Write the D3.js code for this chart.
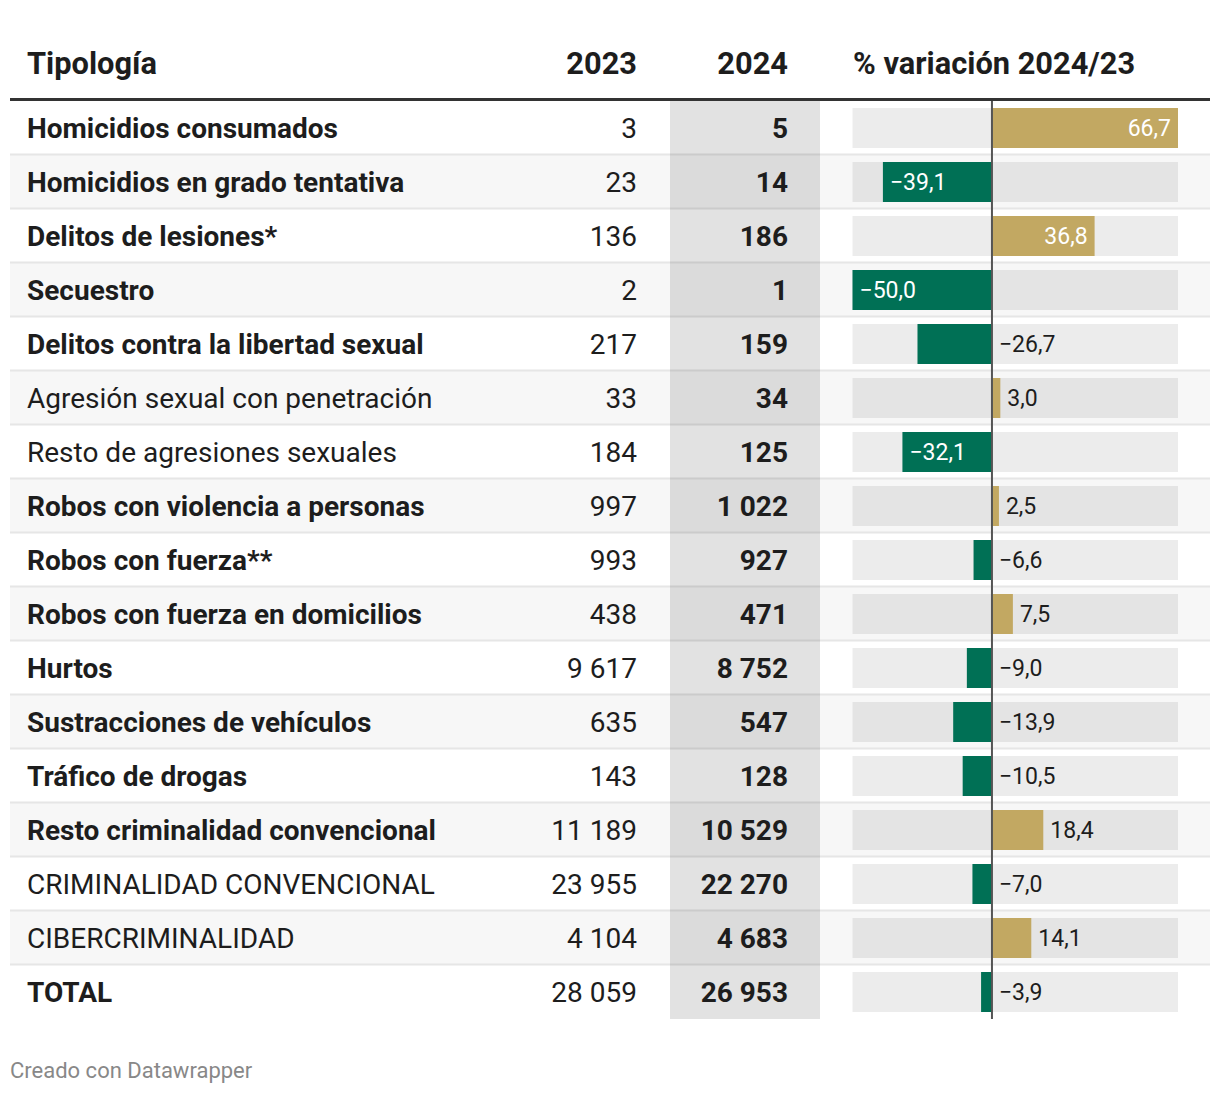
<!DOCTYPE html>
<html>
<head>
<meta charset="utf-8">
<script src="https://cdn.jsdelivr.net/npm/d3@7"></script>
<style>
  body { margin: 0; background: #fff; }
  svg { display: block; font-family: Roboto, "Noto Sans", sans-serif; }
</style>
</head>
<body>
<svg id="chart" width="1220" height="1094"></svg>
<script>
const categories = [
  "Homicidios consumados",
  "Homicidios en grado tentativa",
  "Delitos de lesiones*",
  "Secuestro",
  "Delitos contra la libertad sexual",
  "Agresión sexual con penetración",
  "Resto de agresiones sexuales",
  "Robos con violencia a personas",
  "Robos con fuerza**",
  "Robos con fuerza en domicilios",
  "Hurtos",
  "Sustracciones de vehículos",
  "Tráfico de drogas",
  "Resto criminalidad convencional",
  "CRIMINALIDAD CONVENCIONAL",
  "CIBERCRIMINALIDAD",
  "TOTAL"
];
const boldLabel = [true, true, true, true, true, false, false, true, true, true, true, true, true, true, false, false, true];
const values2023 = [3, 23, 136, 2, 217, 33, 184, 997, 993, 438, 9617, 635, 143, 11189, 23955, 4104, 28059];
const values2024 = [5, 14, 186, 1, 159, 34, 125, 1022, 927, 471, 8752, 547, 128, 10529, 22270, 4683, 26953];
const variation = [66.7, -39.1, 36.8, -50.0, -26.7, 3.0, -32.1, 2.5, -6.6, 7.5, -9.0, -13.9, -10.5, 18.4, -7.0, 14.1, -3.9];
const headers = ["Tipología", "2023", "2024", "% variación 2024/23"];

const rows = categories.map((c, i) => ({
  label: c, bold: boldLabel[i], a: values2023[i], b: values2024[i], v: variation[i]
}));

const loc = d3.formatLocale({decimal: ",", thousands: " ", grouping: [3], currency: ["", ""], minus: "\u2212"});
const fmtInt = loc.format(",d");
const fmtPct = loc.format(".1f");

const svg = d3.select("#chart");
const rowTop = 101, rowH = 54;
const y = d3.scaleBand().domain(d3.range(rows.length)).range([rowTop, rowTop + rowH * rows.length]).padding(0);
const x = d3.scaleLinear().domain([d3.min(variation), d3.max(variation)]).range([852.5, 1178]);

// row backgrounds
svg.append("g").selectAll("rect").data(rows).join("rect")
  .attr("x", 10).attr("width", 1200)
  .attr("y", (d, i) => y(i)).attr("height", rowH)
  .attr("fill", (d, i) => i % 2 ? "#f7f7f7" : "#ffffff");

// row separators
svg.append("g").selectAll("rect").data(rows.slice(0, -1)).join("rect")
  .attr("x", 10).attr("width", 1200)
  .attr("y", (d, i) => y(i) + rowH - 1.5).attr("height", 2)
  .attr("fill", "#e6e6e6");

// 2024 column highlight
svg.append("rect")
  .attr("x", 670).attr("width", 150)
  .attr("y", rowTop).attr("height", rowH * rows.length)
  .attr("fill", "#000").attr("fill-opacity", 0.115);

// header
const hy = 74;
const hfs = 30.8;
svg.append("text").attr("x", 27).attr("y", hy).text(headers[0])
  .attr("font-size", hfs).attr("font-weight", 700).attr("fill", "#1d1d1d");
svg.append("text").attr("x", 637).attr("y", hy).attr("text-anchor", "end").text(headers[1])
  .attr("font-size", hfs).attr("font-weight", 700).attr("fill", "#1d1d1d");
svg.append("text").attr("x", 788).attr("y", hy).attr("text-anchor", "end").text(headers[2])
  .attr("font-size", hfs).attr("font-weight", 700).attr("fill", "#1d1d1d");
svg.append("text").attr("x", 853).attr("y", hy).text(headers[3])
  .attr("font-size", hfs).attr("font-weight", 700).attr("fill", "#1d1d1d");

svg.append("rect").attr("x", 10).attr("y", 98).attr("width", 1200).attr("height", 3).attr("fill", "#333");

const g = svg.append("g").selectAll("g").data(rows).join("g")
  .attr("transform", (d, i) => `translate(0,${y(i) + rowH / 2})`);

const base = 10;
const rfs = 28;
g.append("text").attr("x", 27).attr("y", base)
  .attr("font-size", rfs).attr("font-weight", d => d.bold ? 700 : 400)
  .attr("fill", "#1d1d1d").text(d => d.label);
g.append("text").attr("x", 637).attr("y", base).attr("text-anchor", "end")
  .attr("font-size", rfs).attr("fill", "#1d1d1d").text(d => fmtInt(d.a));
g.append("text").attr("x", 788).attr("y", base).attr("text-anchor", "end")
  .attr("font-size", rfs).attr("font-weight", 700).attr("fill", "#1d1d1d").text(d => fmtInt(d.b));

// bar backgrounds
g.append("rect").attr("x", x.range()[0]).attr("width", x.range()[1] - x.range()[0])
  .attr("y", -20).attr("height", 40).attr("fill", "#000").attr("fill-opacity", 0.075);

// bars
g.append("rect")
  .attr("x", d => Math.min(x(0), x(d.v)))
  .attr("width", d => Math.abs(x(d.v) - x(0)))
  .attr("y", -20).attr("height", 40)
  .attr("fill", d => d.v >= 0 ? "#c2a862" : "#007055");

// bar labels
const inside = d => Math.abs(d.v) > 30;
g.append("text")
  .attr("x", d => {
    if (inside(d)) return d.v >= 0 ? x(d.v) - 7 : x(d.v) + 7;
    return d.v >= 0 ? x(d.v) + 7 : x(0) + 7;
  })
  .attr("text-anchor", d => inside(d) && d.v >= 0 ? "end" : "start")
  .attr("y", 8)
  .attr("font-size", 23)
  .attr("fill", d => inside(d) ? "#ffffff" : "#1d1d1d")
  .text(d => fmtPct(d.v));

// zero line
svg.append("rect").attr("x", x(0) - 1).attr("width", 2)
  .attr("y", rowTop).attr("height", rowH * rows.length)
  .attr("fill", "#555");

// footer
svg.append("text").attr("x", 10).attr("y", 1078).attr("font-size", 22)
  .attr("fill", "#888").text("Creado con Datawrapper");
</script>
</body>
</html>
